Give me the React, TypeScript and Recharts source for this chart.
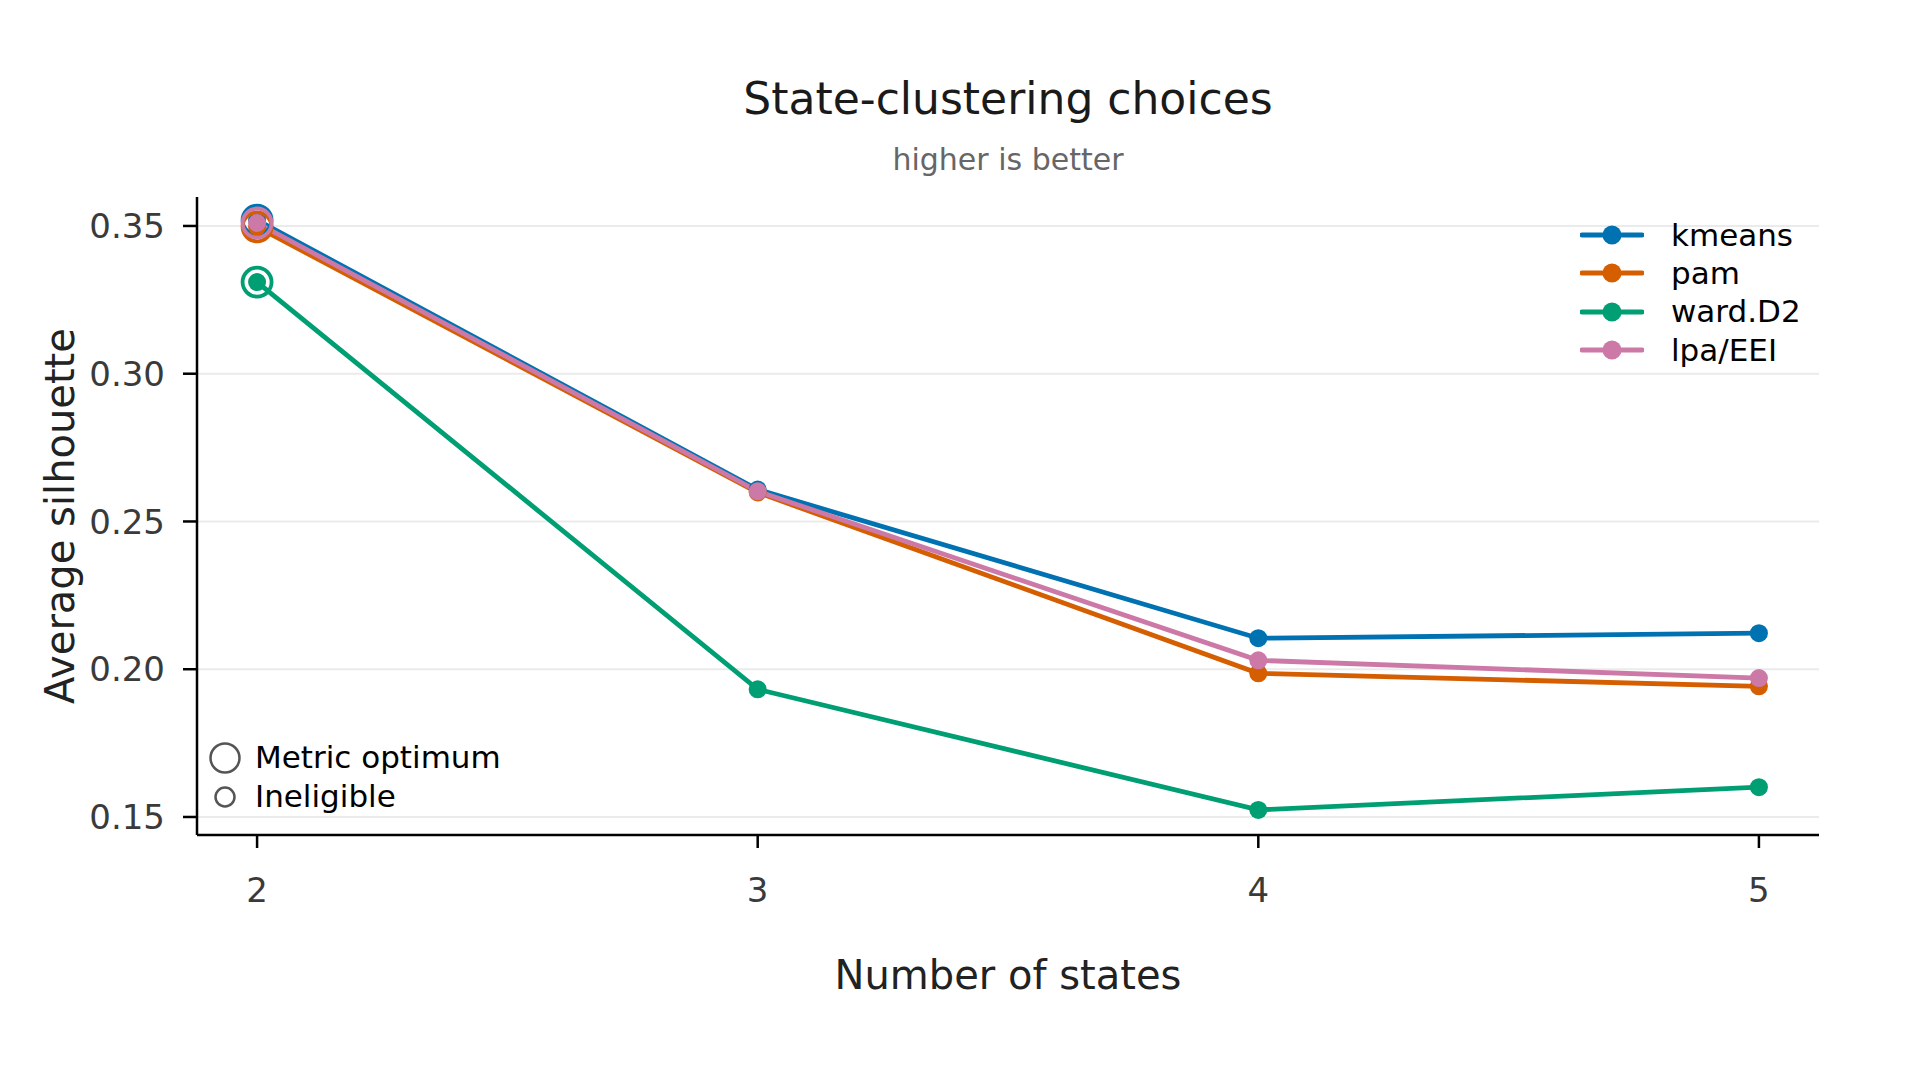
import React from 'react';
import { LineChart, Line, XAxis, YAxis, CartesianGrid } from 'recharts';

const states = [2, 3, 4, 5];
const kmeansValues = [0.352, 0.2608, 0.2105, 0.2122];
const pamValues = [0.3497, 0.2598, 0.1986, 0.1942];
const wardValues = [0.331, 0.1932, 0.1524, 0.1601];
const lpaValues = [0.351, 0.2602, 0.203, 0.197];

const seriesNames = ['kmeans', 'pam', 'ward.D2', 'lpa/EEI'];
const seriesKeys = ['kmeans', 'pam', 'wardD2', 'lpaEEI'];
const seriesColors = ['#0072B2', '#D55E00', '#009E73', '#CC79A7'];
const optimumStates = [2, 2, 2, 2];
const ineligibleStates: number[][] = [[], [], [], []];

const yTicks = [0.15, 0.2, 0.25, 0.3, 0.35];
const xTicks = [2, 3, 4, 5];

const allValues = [kmeansValues, pamValues, wardValues, lpaValues];

const tableData = states.map((k, i) => {
  const row: Record<string, number> = { k };
  seriesKeys.forEach((key, s) => {
    row[key] = allValues[s][i];
  });
  return row;
});

const FONT = '"DejaVu Sans", sans-serif';

const makeDot = (s: number) => (props: any) => {
  const { cx, cy, index, payload } = props;
  const color = seriesColors[s];
  const isOpt = payload.k === optimumStates[s];
  const isInel = ineligibleStates[s].includes(payload.k);
  return (
    <g key={`dot-${s}-${index}`}>
      {isOpt && <circle cx={cx} cy={cy} r={14.5} fill="none" stroke={color} strokeWidth={3.8} />}
      {isInel && <circle cx={cx} cy={cy} r={10} fill="none" stroke="#555" strokeWidth={2.5} />}
      <circle cx={cx} cy={cy} r={9} fill={color} />
    </g>
  );
};

const SeriesLegend = () => (
  <div style={{ position: 'absolute', left: 1580, top: 216, fontFamily: FONT }}>
    {seriesNames.map((name, s) => (
      <div key={name} style={{ display: 'flex', alignItems: 'center', height: 38.3 }}>
        <svg width={64} height={24}>
          <line x1={2} y1={12} x2={62} y2={12} stroke={seriesColors[s]} strokeWidth={5} strokeLinecap="round" />
          <circle cx={32} cy={12} r={9.5} fill={seriesColors[s]} />
        </svg>
        <span style={{ fontSize: 31, color: '#000', marginLeft: 27, lineHeight: 1 }}>{name}</span>
      </div>
    ))}
  </div>
);

const App: React.FC = () => {
  return (
    <div style={{ position: 'absolute', left: 0, top: 0, width: 1920, height: 1080, background: '#fff', fontFamily: FONT }}>
      <div style={{ position: 'absolute', left: 0, width: 2016, top: 77, textAlign: 'center', fontSize: 44, lineHeight: 1, color: '#1a1a1a' }}>
        State-clustering choices
      </div>
      <div style={{ position: 'absolute', left: 0, width: 2016, top: 145, textAlign: 'center', fontSize: 30, lineHeight: 1, color: '#666' }}>
        higher is better
      </div>
      <LineChart
        width={1920}
        height={1080}
        data={tableData}
        margin={{ top: 197, right: 101, bottom: 185, left: 77 }}
        style={{ fontFamily: FONT }}
      >
        <CartesianGrid vertical={false} horizontalValues={yTicks} stroke="#ebebeb" strokeWidth={2} />
        <XAxis
          dataKey="k"
          type="number"
          domain={[1.88, 5.12]}
          ticks={xTicks}
          allowDataOverflow
          height={60}
          axisLine={{ stroke: '#000', strokeWidth: 2.5 }}
          tickLine={{ stroke: '#000', strokeWidth: 2.5 }}
          tickSize={13}
          tickMargin={30}
          tick={{ fontSize: 34, fill: '#3a3a3a', fontFamily: FONT }}
        />
        <YAxis
          type="number"
          domain={[0.1439, 0.3598]}
          ticks={yTicks}
          allowDataOverflow
          width={120}
          axisLine={{ stroke: '#000', strokeWidth: 2.5 }}
          tickLine={{ stroke: '#000', strokeWidth: 2.5 }}
          tickSize={14}
          tickMargin={18}
          tickFormatter={(v: number) => v.toFixed(2)}
          tick={{ fontSize: 34, fill: '#3a3a3a', fontFamily: FONT }}
        />
        {seriesKeys.map((key, s) => (
          <Line
            key={key}
            dataKey={key}
            name={seriesNames[s]}
            stroke={seriesColors[s]}
            strokeWidth={4.8}
            dot={makeDot(s)}
            activeDot={false}
            isAnimationActive={false}
          />
        ))}
      </LineChart>
      <SeriesLegend />
      <div style={{ position: 'absolute', left: 708, width: 600, top: 955, textAlign: 'center', fontSize: 40, lineHeight: 1, color: '#222' }}>
        Number of states
      </div>
      <div
        style={{
          position: 'absolute',
          left: 60 - 300,
          top: 516 - 20,
          width: 600,
          height: 40,
          textAlign: 'center',
          fontSize: 40,
          lineHeight: 1,
          color: '#222',
          transform: 'rotate(-90deg)',
        }}
      >
        Average silhouette
      </div>
      <div style={{ position: 'absolute', left: 205, top: 738, fontSize: 31, lineHeight: 1, color: '#000' }}>
        <div style={{ display: 'flex', alignItems: 'center', height: 39 }}>
          <svg width={40} height={36}>
            <circle cx={20} cy={18} r={14.5} fill="none" stroke="#555" strokeWidth={2.5} />
          </svg>
          <span style={{ marginLeft: 10 }}>Metric optimum</span>
        </div>
        <div style={{ display: 'flex', alignItems: 'center', height: 39 }}>
          <svg width={40} height={36}>
            <circle cx={20} cy={18} r={9.5} fill="none" stroke="#555" strokeWidth={2.5} />
          </svg>
          <span style={{ marginLeft: 10 }}>Ineligible</span>
        </div>
      </div>
    </div>
  );
};

export default App;
